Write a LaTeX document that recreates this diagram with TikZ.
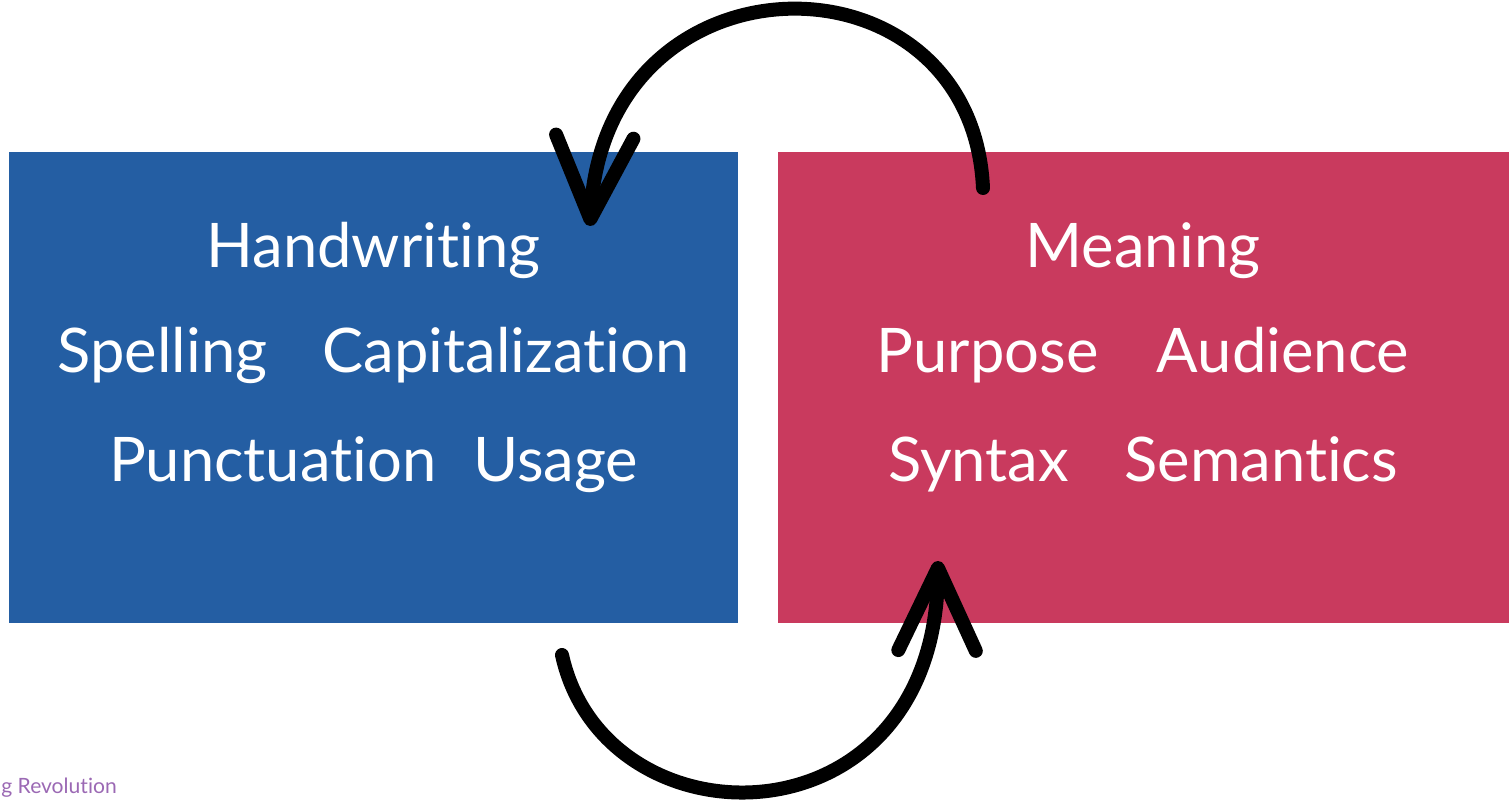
\documentclass[tikz,border=0pt]{standalone}
\usepackage{fontspec}
\setmainfont[Ligatures={NoCommon}]{Lato}
\usepackage{tikz}
\usetikzlibrary{arrows.meta}

\definecolor{handblue}{RGB}{36,94,163}
\definecolor{meaningred}{RGB}{201,58,94}
\definecolor{markpurple}{RGB}{155,105,180}

\tikzset{
    panel/.style={anchor=north west, inner sep=0pt, minimum height=9.42cm},
    word/.style={text=white, anchor=base, inner sep=0pt, font=\fontsize{35}{40}\selectfont},
    loop/.style={line width=0.28cm, line cap=round,
        -{Straight Barb[length=1.65cm, width=1.55cm, line cap=round, line join=round]}}
}

\begin{document}
\begin{tikzpicture}[x=0.02cm, y=-0.02cm]
                \useasboundingbox (0,0) rectangle (1509,800);
                % the two boxes
                \node (writing) [panel, fill=handblue, minimum width=14.58cm] at (9,152) {};
                \node (meaning) [panel, fill=meaningred, minimum width=14.62cm] at (778,152) {};

                % left box text
                \node (handw) [word] at (373.5,268) {Handwriting};
                \node (spell) [word] at (373.5,373) {Spelling\hspace{0.9em}Capitalization};
                \node (punct) [word] at (373.5,482) {Punctuation\hspace{0.6em}Usage};

                % right box text
                \node (mean) [word] at (1143,268) {Meaning};
                \node (purp) [word] at (1143,373) {Purpose\hspace{0.95em}Audience};
                \node (synt) [word] at (1143,482) {Syntax\hspace{0.9em}Semantics};

                % ends of the loops
                \coordinate (topfrom) at (983,188);
                \coordinate (topto) at (590,226);
                \coordinate (botfrom) at (562,655);
                \coordinate (botto) at (938,561);

                \draw[loop] (topfrom) .. controls (972,-55) and (605,-55) .. (topto);
                \draw[loop] (botfrom) .. controls (605,850) and (935,850) .. (botto);

                \node (credit) [text=markpurple, anchor=base west, inner sep=0pt, font=\fontsize{12}{14}\selectfont] at (1,793) {g Revolution};
            \end{tikzpicture}
\end{document}
